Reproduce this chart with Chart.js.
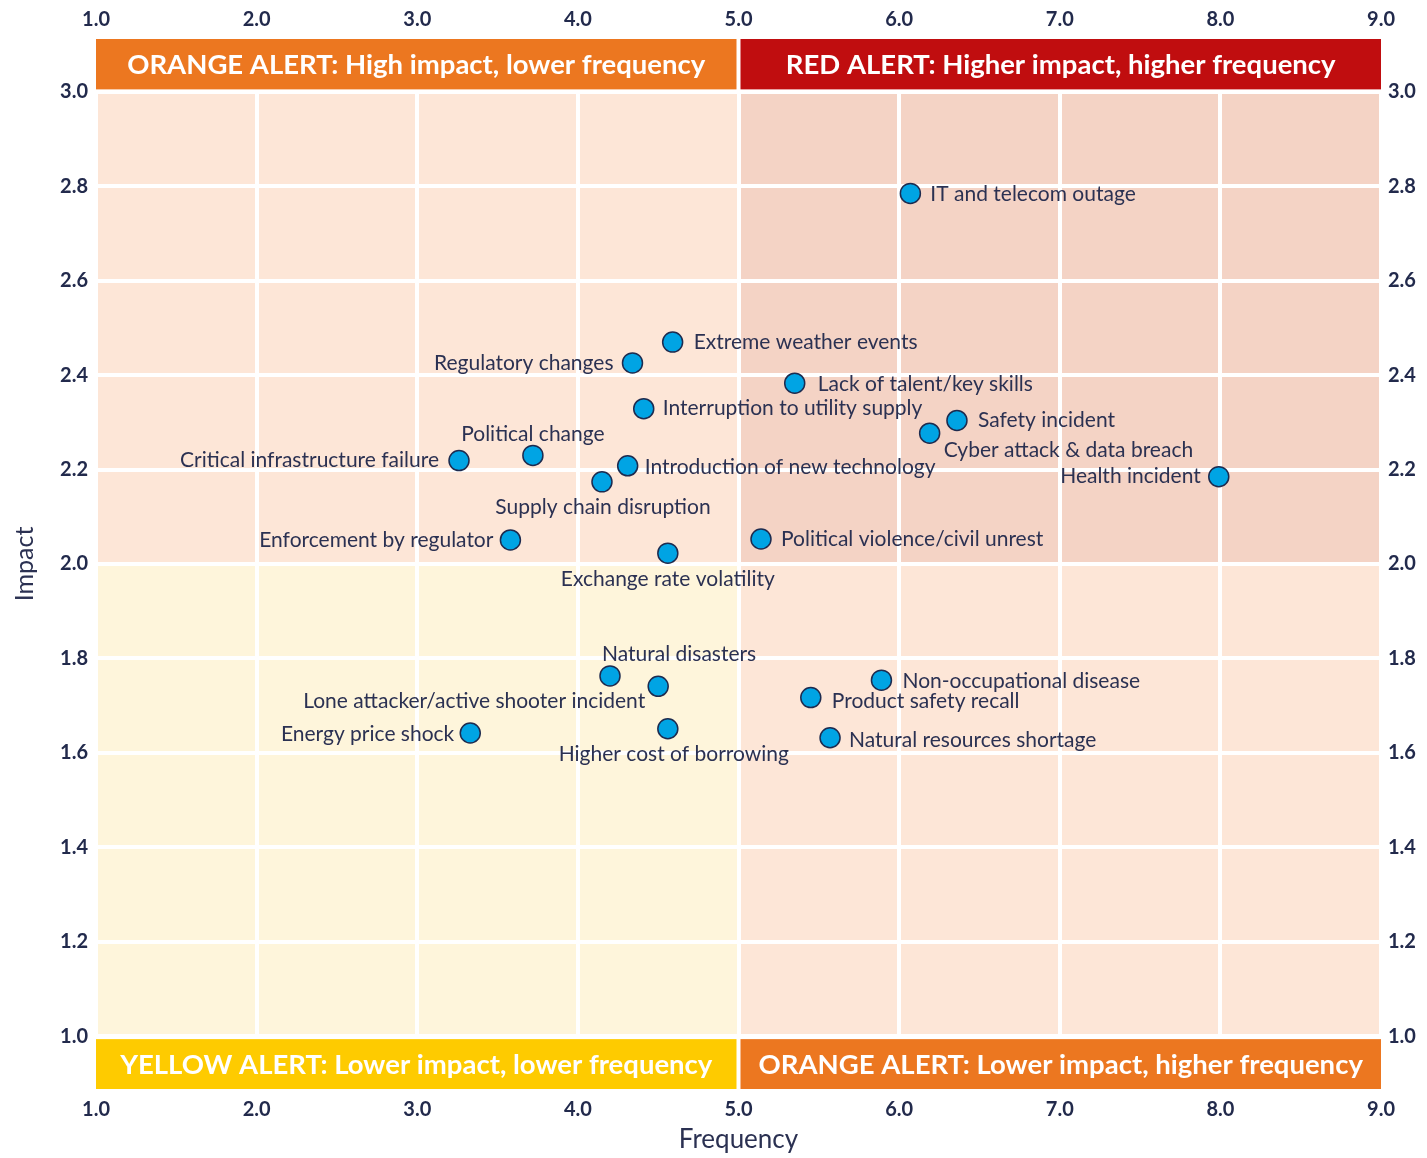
<!DOCTYPE html>
<html>
<head>
<meta charset="utf-8">
<title>Risk matrix</title>
<script src="https://cdn.jsdelivr.net/npm/chart.js@4.4.1/dist/chart.umd.min.js"></script>
<style>
    html, body { margin: 0; padding: 0; background: #fff; }
    #wrap { width: 1427px; height: 1158px; position: relative; }
</style>
</head>
<body>
<div id="wrap"><canvas id="risk-chart"></canvas></div>
<script>
// Les données
const risks = [
    "IT and telecom outage", "Extreme weather events", "Regulatory changes",
    "Lack of talent/key skills", "Interruption to utility supply", "Safety incident",
    "Cyber attack & data breach", "Political change", "Critical infrastructure failure",
    "Introduction of new technology", "Health incident", "Supply chain disruption",
    "Enforcement by regulator", "Political violence/civil unrest", "Exchange rate volatility",
    "Natural disasters", "Lone attacker/active shooter incident", "Non-occupational disease",
    "Product safety recall", "Higher cost of borrowing", "Energy price shock",
    "Natural resources shortage"
]
const frequency = [6.07, 4.59, 4.34, 5.35, 4.41, 6.36, 6.19, 3.72, 3.26, 4.31, 7.99, 4.15,
    3.58, 5.14, 4.56, 4.20, 4.50, 5.89, 5.45, 4.56, 3.33, 5.57]
const impact = [2.785, 2.470, 2.426, 2.383, 2.329, 2.304, 2.277, 2.230, 2.219, 2.208, 2.185, 2.174,
    2.051, 2.053, 2.023, 1.763, 1.741, 1.754, 1.717, 1.651, 1.642, 1.632]
const xTicks = [1, 2, 3, 4, 5, 6, 7, 8, 9]
const yTicks = [1.0, 1.2, 1.4, 1.6, 1.8, 2.0, 2.2, 2.4, 2.6, 2.8, 3.0]
const alertTitles = [
    "ORANGE ALERT: High impact, lower frequency",
    "RED ALERT: Higher impact, higher frequency",
    "YELLOW ALERT: Lower impact, lower frequency",
    "ORANGE ALERT: Lower impact, higher frequency"
]

// Placement des étiquettes (style seulement) : [alignement, dx, dy]
const labelPlace = [
    ["left", 20, 1], ["left", 21, 0], ["right", -19, 0], ["left", 23, 1], ["left", 19, 0],
    ["left", 21, 0], ["left", 14, 17], ["center", 0, -21], ["right", -20, 0], ["left", 17, 1],
    ["right", -18, 0], ["center", 1, 25], ["right", -17, 0], ["left", 20, 0], ["center", 0, 26],
    ["left", -8, -22], ["right", -13, 15], ["left", 21, 1], ["left", 21, 4], ["center", 6, 25],
    ["right", -16, 1], ["left", 19, 2]
]

const navy = "#222a4c"
const FONT = "Lato, 'Noto Sans', sans-serif"

const quadrantPlugin = {
    id: "quadrants",
    beforeDraw(chart) {
        const { ctx, scales: { x, y } } = chart
        const x1 = x.getPixelForValue(1), x5 = x.getPixelForValue(5), x9 = x.getPixelForValue(9)
        const y3 = y.getPixelForValue(3), y2 = y.getPixelForValue(2), y1 = y.getPixelForValue(1)
        ctx.save()
        ctx.fillStyle = "#fde6d7"
        ctx.fillRect(x1, y3, x5 - x1, y2 - y3)
        ctx.fillStyle = "#f4d3c5"
        ctx.fillRect(x5, y3, x9 - x5, y2 - y3)
        ctx.fillStyle = "#fef5db"
        ctx.fillRect(x1, y2, x5 - x1, y1 - y2)
        ctx.fillStyle = "#fde6d7"
        ctx.fillRect(x5, y2, x9 - x5, y1 - y2)
        ctx.restore()
    },
    beforeDatasetsDraw(chart) {
        const { ctx, chartArea, scales: { x, y } } = chart
        const x1 = x.getPixelForValue(1), x5 = x.getPixelForValue(5), x9 = x.getPixelForValue(9)
        const y3 = y.getPixelForValue(3), y1 = y.getPixelForValue(1)
        const top = chartArea.top, bottom = chartArea.bottom
        const boxes = [
            [x1, top, x5 - 2 - x1, y3 - 2.5 - top, "#ec7720"],
            [x5 + 2, top, x9 - x5 - 2, y3 - 2.5 - top, "#c00d0f"],
            [x1, y1 + 3, x5 - 2 - x1, bottom - y1 - 3, "#fecb00"],
            [x5 + 2, y1 + 3, x9 - x5 - 2, bottom - y1 - 3, "#ec7720"]
        ]
        ctx.save()
        ctx.font = "bold 27.5px " + FONT
        ctx.textAlign = "center"
        ctx.textBaseline = "middle"
        boxes.forEach((b, i) => {
            ctx.fillStyle = b[4]
            ctx.fillRect(b[0], b[1], b[2], b[3])
            ctx.fillStyle = "#ffffff"
            ctx.fillText(alertTitles[i], b[0] + b[2] / 2, b[1] + b[3] / 2 + 1)
        })
        ctx.restore()
    },
    afterDatasetsDraw(chart) {
        const { ctx } = chart
        const meta = chart.getDatasetMeta(0)
        ctx.save()
        ctx.font = "21px " + FONT
        ctx.fillStyle = "#2b3152"
        ctx.textBaseline = "middle"
        meta.data.forEach((pt, i) => {
            const p = labelPlace[i]
            ctx.textAlign = p[0]
            ctx.fillText(risks[i], pt.x + p[1], pt.y + p[2])
        })
        ctx.restore()
    }
}

const tickFont = { family: FONT, size: 20, weight: "bold" }
const fixedTicks = (values) => (scale) => {
    scale.ticks = values.map((v) => ({ value: v }))
}

new Chart(document.getElementById("risk-chart"), {
    type: "scatter",
    data: {
        datasets: [{
            label: "Risks",
            data: frequency.map((f, i) => ({ x: f, y: impact[i] })),
            backgroundColor: "#00a4e4",
            borderColor: "#1d2b4f",
            borderWidth: 1.5,
            pointRadius: 10,
            pointHoverRadius: 10
        }]
    },
    options: {
        responsive: true,
        maintainAspectRatio: false,
        animation: false,
        layout: { padding: 0 },
        plugins: { legend: { display: false }, tooltip: { enabled: false } },
        scales: {
            x: {
                type: "linear", position: "bottom", min: 1, max: 9,
                afterBuildTicks: fixedTicks(xTicks),
                afterFit: (s) => { s.height = 69 },
                grid: { color: "#ffffff", lineWidth: 4, drawTicks: false },
                border: { display: false },
                ticks: { font: tickFont, color: navy, padding: 9, callback: (v) => Number(v).toFixed(1) },
                title: { display: true, text: "Frequency", color: "#2b3152", font: { family: FONT, size: 26 }, padding: { top: 0, bottom: 3 } }
            },
            x2: {
                type: "linear", position: "top", min: 1, max: 9,
                afterBuildTicks: fixedTicks(xTicks),
                afterFit: (s) => { s.height = 39 },
                grid: { display: false, drawTicks: false },
                border: { display: false },
                ticks: { font: tickFont, color: navy, padding: 7, callback: (v) => Number(v).toFixed(1) }
            },
            y: {
                type: "linear", position: "left", min: 0.888, max: 3.112,
                afterBuildTicks: fixedTicks(yTicks),
                afterFit: (s) => { s.width = 96 },
                grid: { color: "#ffffff", lineWidth: 4, drawTicks: false },
                border: { display: false },
                ticks: { font: tickFont, color: navy, padding: 8, callback: (v) => Number(v).toFixed(1) },
                title: { display: true, text: "Impact", color: "#2b3152", font: { family: FONT, size: 25 }, padding: { top: 10, bottom: 0 } }
            },
            y2: {
                type: "linear", position: "right", min: 0.888, max: 3.112,
                afterBuildTicks: fixedTicks(yTicks),
                afterFit: (s) => { s.width = 46 },
                grid: { display: false, drawTicks: false },
                border: { display: false },
                ticks: { font: tickFont, color: navy, padding: 7, callback: (v) => Number(v).toFixed(1) }
            }
        }
    },
    plugins: [quadrantPlugin]
})
</script>
</body>
</html>
